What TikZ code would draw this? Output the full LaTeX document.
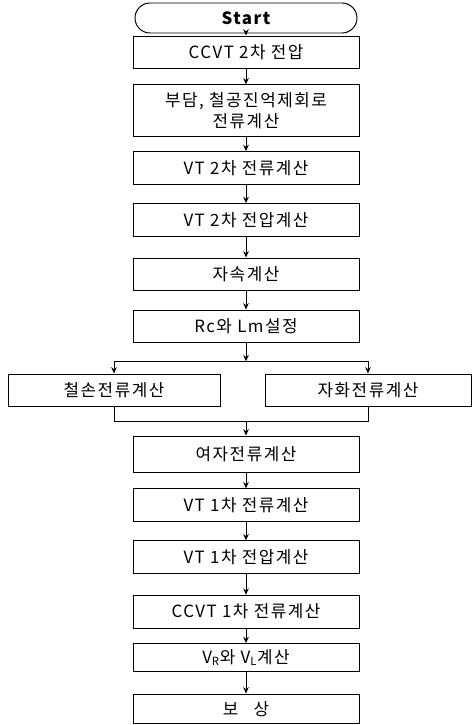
\documentclass[tikz,border=0pt]{standalone}
\usepackage{fontspec}
\setmainfont{Noto Sans CJK KR}[LetterSpace=9]
\usepackage{tikz}
\usetikzlibrary{arrows.meta, positioning, calc}

\begin{document}
\begin{tikzpicture}[node distance=1.3cm, auto]
\tikzstyle{stepbox}=[rectangle, draw, line width=0.7pt, minimum width=5.65cm,
  minimum height=0.82cm, text centered, font=\fontsize{12}{14.5}\selectfont]
\tikzstyle{terminal}=[rectangle, draw, line width=0.7pt, rounded corners=0.375cm,
  minimum width=5.55cm, minimum height=0.75cm,
  font=\bfseries\fontsize{12}{14.5}\selectfont]
\tikzstyle{arrow}=[-{Stealth[length=4.5pt, width=4pt]}, line width=0.7pt]
\tikzstyle{line}=[line width=0.7pt]

\useasboundingbox (-6.15,0.45) rectangle (5.725,-17.675);

\node (start) [terminal] {Start};
\node (ccvt2) [stepbox, below of=start, yshift=0.44cm] {CCVT 2차 전압};
\node (burden) [stepbox, below of=ccvt2, yshift=-0.16cm, minimum height=1.3cm,
  align=center] {부담, 철공진억제회로\\전류계산};
\node (vt2i) [stepbox, below of=burden, yshift=-0.13cm] {VT 2차 전류계산};
\node (vt2v) [stepbox, below of=vt2i] {VT 2차 전압계산};
\node (flux) [stepbox, below of=vt2v, yshift=-0.06cm] {자속계산};
\node (rclm) [stepbox, below of=flux] {Rc와 Lm설정};

% branch: core loss / magnetizing current
\node (iron) [stepbox, below of=rclm, xshift=-3.3cm, yshift=-0.3cm,
  minimum width=5.3cm] {철손전류계산};
\node (magn) [stepbox, below of=rclm, xshift=3.05cm, yshift=-0.3cm,
  minimum width=5.15cm] {자화전류계산};

\node (excit) [stepbox, below of=rclm, yshift=-1.9cm, minimum height=0.92cm]
  {여자전류계산};
\node (vt1i) [stepbox, below of=excit, yshift=0.03cm] {VT 1차 전류계산};
\node (vt1v) [stepbox, below of=vt1i] {VT 1차 전압계산};
\node (ccvt1) [stepbox, below of=vt1v, yshift=-0.06cm] {CCVT 1차 전류계산};
\node (vrvl) [stepbox, below of=ccvt1, yshift=0.15cm, minimum height=0.7cm]
  {V\textsubscript{R}와 V\textsubscript{L}계산};
\node (comp) [stepbox, below of=vrvl, yshift=0.02cm, minimum height=0.74cm]
  {보\hspace{0.9em}상};

\coordinate (split) at ($(rclm.south)+(0,-0.45)$);
\coordinate (join) at ($(iron.south -| rclm.south)+(0,-0.35)$);

\draw [arrow] (start) -- (ccvt2);
\draw [arrow] (ccvt2) -- (burden);
\draw [arrow] (burden) -- (vt2i);
\draw [arrow] (vt2i) -- (vt2v);
\draw [arrow] (vt2v) -- (flux);
\draw [arrow] (flux) -- (rclm);
\draw [arrow] (rclm) -- (split);
\draw [arrow] (split) -| (iron);
\draw [arrow] (split) -| (magn);
\draw [line] (iron) |- (join);
\draw [line] (magn) |- (join);
\draw [arrow] (join) -- (excit);
\draw [arrow] (excit) -- (vt1i);
\draw [arrow] (vt1i) -- (vt1v);
\draw [arrow] (vt1v) -- (ccvt1);
\draw [arrow] (ccvt1) -- (vrvl);
\draw [arrow] (vrvl) -- (comp);
\end{tikzpicture}
\end{document}
